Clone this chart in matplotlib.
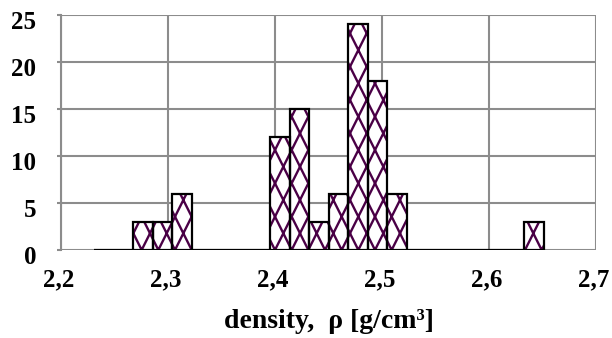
import numpy as np
import matplotlib
matplotlib.use("Agg")
import matplotlib.pyplot as plt
import matplotlib.transforms as mtransforms
from matplotlib.path import Path
import matplotlib.backend_bases as bb

# Histogram data
bin_start = 2.231
bin_width = 0.01826
counts = [0, 0, 3, 3, 6, 0, 0, 0, 0, 12, 15, 3, 6, 24, 18, 6, 0, 0, 0, 0, 0, 0, 3]
x_ticks = [2.2, 2.3, 2.4, 2.5, 2.6, 2.7]
x_tick_labels = ["2,2", "2,3", "2,4", "2,5", "2,6", "2,7"]
y_ticks = [0, 5, 10, 15, 20, 25]
x_label = "density,  ρ [g/cm³]"


# custom steep cross-hatch (Excel-like pattern)
def _steep_cross_path():
    verts, codes = [], []
    x0, x1 = -0.6, 1.6
    for k in range(-8, 6):
        a = k / 3.0
        verts += [(x0, 2 * x0 + a), (x1, 2 * x1 + a)]
        codes += [Path.MOVETO, Path.LINETO]
    for k in range(-3, 12):
        b = k / 3.0
        verts += [(x0, -2 * x0 + b), (x1, -2 * x1 + b)]
        codes += [Path.MOVETO, Path.LINETO]
    return Path(np.array(verts), codes)


_STEEP = _steep_cross_path()
_orig_get_hatch_path = bb.GraphicsContextBase.get_hatch_path


def _get_hatch_path(self, density=6.0):
    if self.get_hatch() == 'x':
        return _STEEP
    return _orig_get_hatch_path(self, density)


bb.GraphicsContextBase.get_hatch_path = _get_hatch_path
plt.rcParams['hatch.linewidth'] = 1.7

fig = plt.figure(figsize=(6.12, 3.38), dpi=100)
ax = fig.add_axes([61/612, 1-250/338, (596-61)/612, (250-15)/338])

lefts = bin_start + bin_width*np.arange(len(counts))
ax.bar(lefts, counts, width=bin_width, align='edge', facecolor='white',
       edgecolor='#4a0046', linewidth=0, hatch='x', zorder=3)
ax.bar(lefts, counts, width=bin_width, align='edge', facecolor='none',
       edgecolor='black', linewidth=1.6, zorder=4)

ax.set_xlim(2.2, 2.7)
ax.set_ylim(0, 25)
ax.set_xticks(x_ticks)
ax.set_xticklabels(x_tick_labels)
ax.set_yticks(y_ticks)
ax.grid(True, color='#8c8c8c', linewidth=1.5, zorder=0)
ax.set_axisbelow(True)
for s in ax.spines.values():
    s.set_visible(False)
ax.spines['left'].set_visible(True)
ax.spines['left'].set_color('#8c8c8c')
ax.spines['left'].set_linewidth(1.5)
ax.tick_params(axis='x', length=0, pad=13)
ax.tick_params(axis='y', length=3, width=1.5, color='#8c8c8c', pad=15)
for lab in ax.get_xticklabels() + ax.get_yticklabels():
    lab.set_fontfamily('Liberation Serif')
    lab.set_fontweight('bold')
    lab.set_fontsize(18)
off_y = mtransforms.ScaledTranslation(0, -5/100, fig.dpi_scale_trans)
for t in ax.yaxis.get_major_ticks():
    t.label1.set_transform(t.label1.get_transform() + off_y)
off_x = mtransforms.ScaledTranslation(-2/100, 0, fig.dpi_scale_trans)
for t in ax.xaxis.get_major_ticks():
    t.label1.set_transform(t.label1.get_transform() + off_x)
ax.set_xlabel(x_label, fontfamily='Liberation Serif', fontweight='bold',
              fontsize=20, labelpad=13)

fig.savefig("out.png", dpi=100)
